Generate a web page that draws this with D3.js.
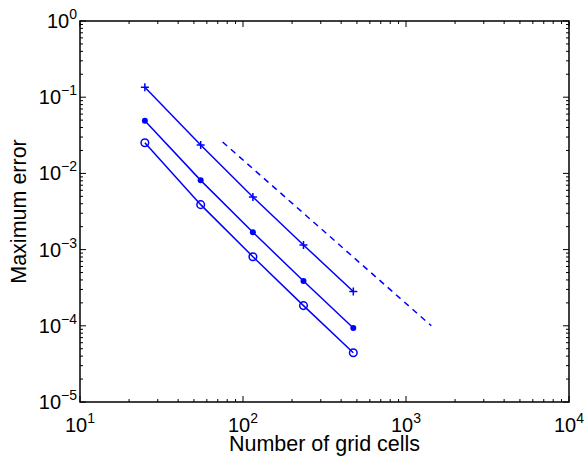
<!DOCTYPE html>
<html>
<head>
<meta charset="utf-8">
<script src="https://cdn.jsdelivr.net/npm/d3@7"></script>
<style>
  body { margin: 0; background: #fff; }
  text { font-family: "Liberation Sans", Arial, Helvetica, sans-serif; fill: #000; }
</style>
</head>
<body>
<svg class="visual" width="588" height="460"></svg>
<script>
// Grid sizes and errors
const gridCells = [25, 55, 115, 235, 475];
const errPlus = [0.135, 0.0236, 0.0049, 0.00115, 0.000282];
const errDot = [0.049, 0.0081, 0.00169, 0.000387, 0.0000935];
const errCircle = [0.0253, 0.00389, 0.000807, 0.000184, 0.0000443];
// dashed reference slope
const refX = [75, 1430];
const refY = [0.0258, 0.0001];

const xTickExp = [1, 2, 3, 4];
const yTickExp = [0, -1, -2, -3, -4, -5];

const svg = d3.select(".visual");
const margin = {top: 21, right: 19, bottom: 58, left: 80};
const width = 588 - margin.left - margin.right;
const height = 460 - margin.top - margin.bottom;
const blue = "#0000ff";

const x = d3.scaleLog().domain([10, 1e4]).range([0, width]);
const y = d3.scaleLog().domain([1e-5, 1]).range([height, 0]);

const g = svg.append("g").attr("transform", `translate(${margin.left},${margin.top})`);

// minor + major ticks on all four sides (matlab box style)
function minorVals(scale) {
  const [a, b] = scale.domain();
  const out = [];
  for (let e = Math.round(Math.log10(a)); e < Math.round(Math.log10(b)); e++) {
    for (let k = 2; k <= 9; k++) out.push(k * Math.pow(10, e));
  }
  return out;
}
const majorLen = 6, minorLen = 3;
const ticks = g.append("g").attr("stroke", "#000").attr("stroke-width", 1);

xTickExp.forEach(e => {
  const px = x(Math.pow(10, e));
  ticks.append("line").attr("x1", px).attr("x2", px).attr("y1", height).attr("y2", height - majorLen);
  ticks.append("line").attr("x1", px).attr("x2", px).attr("y1", 0).attr("y2", majorLen);
});
minorVals(x).forEach(v => {
  const px = x(v);
  ticks.append("line").attr("x1", px).attr("x2", px).attr("y1", height).attr("y2", height - minorLen);
  ticks.append("line").attr("x1", px).attr("x2", px).attr("y1", 0).attr("y2", minorLen);
});
yTickExp.forEach(e => {
  const py = y(Math.pow(10, e));
  ticks.append("line").attr("y1", py).attr("y2", py).attr("x1", 0).attr("x2", majorLen);
  ticks.append("line").attr("y1", py).attr("y2", py).attr("x1", width).attr("x2", width - majorLen);
});
minorVals(y).forEach(v => {
  const py = y(v);
  ticks.append("line").attr("y1", py).attr("y2", py).attr("x1", 0).attr("x2", minorLen);
  ticks.append("line").attr("y1", py).attr("y2", py).attr("x1", width).attr("x2", width - minorLen);
});

// axis box
g.append("rect")
  .attr("width", width).attr("height", height)
  .attr("fill", "none").attr("stroke", "#000").attr("stroke-width", 1.5);

// tick labels
const fs = 20, sfs = 14, tfs = 21.5;
xTickExp.forEach(e => {
  const t = g.append("text")
    .attr("x", x(Math.pow(10, e)))
    .attr("y", height + 30)
    .attr("text-anchor", "middle")
    .style("font-size", fs + "px");
  t.append("tspan").text("10");
  t.append("tspan").attr("dy", -9).style("font-size", sfs + "px").text(String(e));
});
yTickExp.forEach(e => {
  const t = g.append("text")
    .attr("x", -3)
    .attr("y", y(Math.pow(10, e)) + 7)
    .attr("text-anchor", "end")
    .style("font-size", fs + "px");
  t.append("tspan").text("10");
  t.append("tspan").attr("dy", -9).style("font-size", sfs + "px")
    .text(e < 0 ? "\u2212" + (-e) : String(e));
});

// axis titles
svg.append("text")
  .attr("x", margin.left + width / 2)
  .attr("y", 451)
  .attr("text-anchor", "middle")
  .style("font-size", tfs + "px")
  .text("Number of grid cells");

svg.append("text")
  .attr("transform", `translate(26,${margin.top + height / 2}) rotate(-90)`)
  .attr("text-anchor", "middle")
  .style("font-size", tfs + "px")
  .text("Maximum error");

// series lines
const line = d3.line().x(d => x(d[0])).y(d => y(d[1]));
const series = [errPlus, errDot, errCircle];
series.forEach(vals => {
  g.append("path")
    .datum(d3.zip(gridCells, vals))
    .attr("d", line)
    .attr("fill", "none").attr("stroke", blue).attr("stroke-width", 1.5);
});

g.append("path")
  .datum(d3.zip(refX, refY))
  .attr("d", line)
  .attr("fill", "none").attr("stroke", blue).attr("stroke-width", 1.5)
  .attr("stroke-dasharray", "6,5");

// markers
d3.zip(gridCells, errPlus).forEach(d => {
  const cx = x(d[0]), cy = y(d[1]);
  g.append("path")
    .attr("d", `M${cx - 4},${cy}H${cx + 4}M${cx},${cy - 4}V${cy + 4}`)
    .attr("stroke", blue).attr("stroke-width", 1.5);
});
g.selectAll("circle.dot")
  .data(d3.zip(gridCells, errDot))
  .join("circle")
  .attr("class", "dot")
  .attr("cx", d => x(d[0])).attr("cy", d => y(d[1]))
  .attr("r", 3).attr("fill", blue);
g.selectAll("circle.ring")
  .data(d3.zip(gridCells, errCircle))
  .join("circle")
  .attr("class", "ring")
  .attr("cx", d => x(d[0])).attr("cy", d => y(d[1]))
  .attr("r", 3.8).attr("fill", "none").attr("stroke", blue).attr("stroke-width", 1.5);
</script>
</body>
</html>
